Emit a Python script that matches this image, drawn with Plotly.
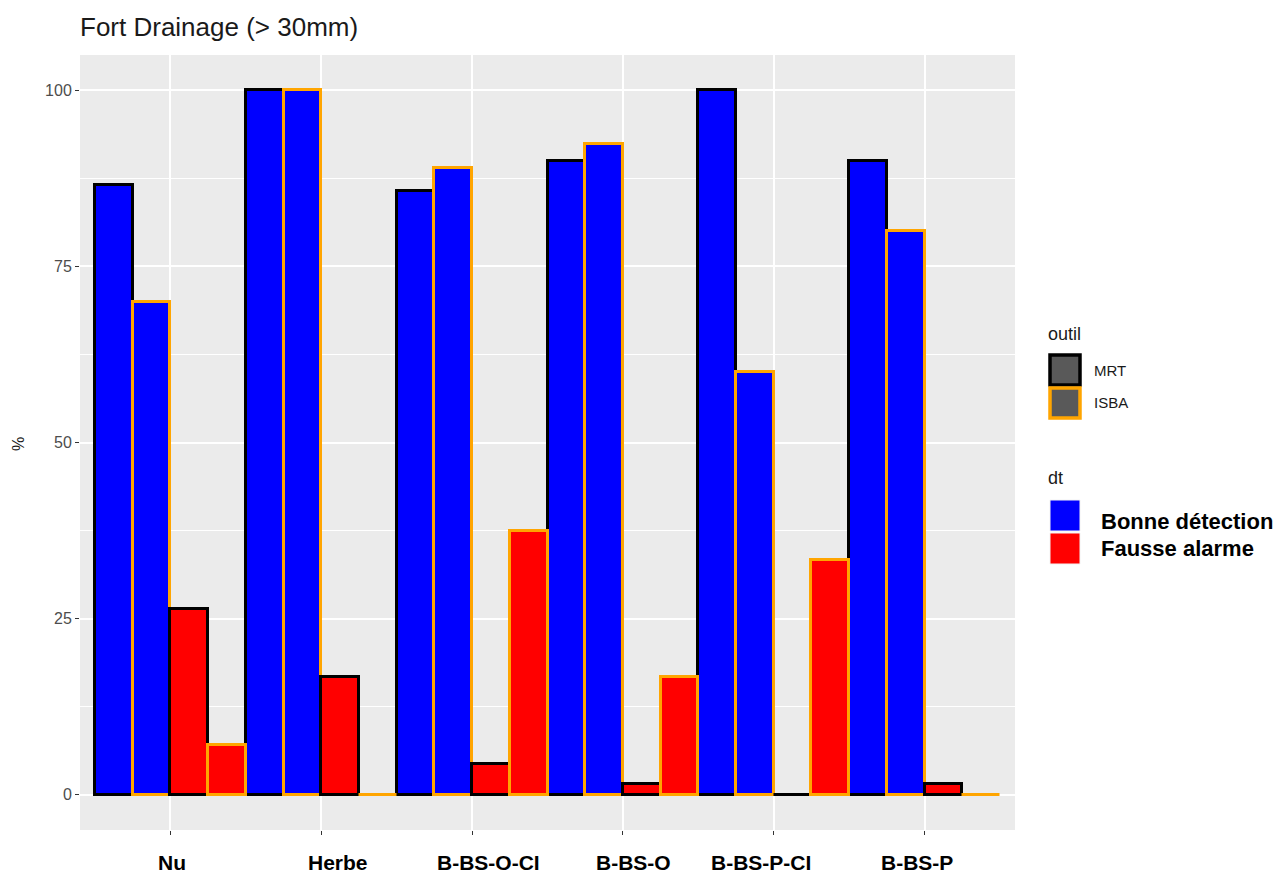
import plotly.graph_objects as go

# ---------------- data ----------------
categories = ["Nu", "Herbe", "B-BS-O-CI", "B-BS-O", "B-BS-P-CI", "B-BS-P"]
mrt_bonne = [86.5, 100, 85.7, 90, 100, 90]
isba_bonne = [70, 100, 88.9, 92.3, 60, 80]
mrt_fausse = [26.3, 16.7, 4.3, 1.6, 0, 1.6]
isba_fausse = [7.1, 0, 37.5, 16.7, 33.3, 0]
y_ticks = [0, 25, 50, 75, 100]

outil_labels = ["MRT", "ISBA"]
dt_labels = ["Bonne détection", "Fausse alarme"]

# ---------------- style ----------------
BLUE, RED = "#0000FF", "#FF0000"
BLACK, ORANGE = "#000000", "#FFA500"
FONT = "Liberation Sans, Arial, sans-serif"
OFF = 8  # default page body margin
SW, SH = 1282, 876           # screen size
W, H = SW - OFF, SH - OFF     # figure size
PL, PR, PT, PB = 80, 1015, 55, 830   # plot area in screen pixels


def px(x):
    return (x - PL) / (PR - PL)


def py(y):
    return (PB - y) / (PB - PT)


series = [
    (mrt_bonne, BLUE, BLACK, "MRT", "Bonne détection"),
    (isba_bonne, BLUE, ORANGE, "ISBA", "Bonne détection"),
    (mrt_fausse, RED, BLACK, "MRT", "Fausse alarme"),
    (isba_fausse, RED, ORANGE, "ISBA", "Fausse alarme"),
]

fig = go.Figure()
for i, (vals, fill, edge, outil, dt) in enumerate(series):
    fig.add_trace(go.Bar(
        x=categories, y=vals, offsetgroup=str(i),
        marker=dict(color=fill, line=dict(color=edge, width=3)),
        name=f"{outil} - {dt}", showlegend=False,
    ))

# x tick labels as annotations (offsets as in reference)
label_shift = [2, 17, 16, 11, -13, -8]
annotations = []
for cat, sh in zip(categories, label_shift):
    annotations.append(dict(
        x=cat, xref="x", y=0, yref="paper", yanchor="top", yshift=-19,
        xshift=sh, text=f"<b>{cat}</b>", showarrow=False,
        font=dict(family=FONT, size=21, color="#000000")))

# y axis title
annotations.append(dict(x=px(18), y=py(444), xref="paper", yref="paper",
                        xanchor="center", yanchor="middle", text="%", textangle=-90,
                        showarrow=False,
                        font=dict(family=FONT, size=16, color="#1A1A1A")))

# legend (manual)
shapes = []
legend_title_font = dict(family=FONT, size=18, color="#1A1A1A")
annotations.append(dict(x=px(1046), y=py(334), xref="paper", yref="paper",
                        xanchor="left", yanchor="middle", text="outil",
                        showarrow=False, font=legend_title_font))
annotations.append(dict(x=px(1046), y=py(478), xref="paper", yref="paper",
                        xanchor="left", yanchor="middle", text="dt",
                        showarrow=False, font=legend_title_font))
for k, (lab, edge) in enumerate(zip(outil_labels, [BLACK, ORANGE])):
    y0 = 355 + 33 * k
    shapes.append(dict(type="rect", xref="paper", yref="paper",
                       x0=px(1050), x1=px(1080), y0=py(y0 + 30), y1=py(y0),
                       fillcolor="#595959", line=dict(color=edge, width=3.5)))
    annotations.append(dict(x=px(1092), y=py(y0 + 15), xref="paper", yref="paper",
                            xanchor="left", yanchor="middle", text=lab,
                            showarrow=False,
                            font=dict(family=FONT, size=15, color="#1A1A1A")))
for k, (lab, col) in enumerate(zip(dt_labels, [BLUE, RED])):
    y0 = 500 + 33 * k
    shapes.append(dict(type="rect", xref="paper", yref="paper",
                       x0=px(1050), x1=px(1080), y0=py(y0 + 31), y1=py(y0),
                       fillcolor=col, line=dict(color="#F2F2F2", width=1)))
    annotations.append(dict(x=px(1099), y=py(521 + 27 * k), xref="paper", yref="paper",
                            xanchor="left", yanchor="middle", text=f"<b>{lab}</b>",
                            showarrow=False,
                            font=dict(family=FONT, size=22, color="#000000")))

fig.update_layout(
    width=W, height=H,
    margin=dict(l=PL - OFF, r=W - (PR - OFF), t=PT - OFF, b=H - (PB - OFF),
                autoexpand=False),
    paper_bgcolor="white", plot_bgcolor="#EBEBEB",
    barmode="group", bargap=0, bargroupgap=0,
    font=dict(family=FONT),
    title=dict(text="Fort Drainage (> 30mm)", xref="container", yref="container",
               x=(80 - OFF) / W, xanchor="left", y=1 - (27 - OFF) / H, yanchor="middle",
               font=dict(family=FONT, size=26, color="#1A1A1A")),
    showlegend=False,
    shapes=shapes, annotations=annotations,
)
fig.update_xaxes(
    range=[-0.6, 5.6], showgrid=True, gridcolor="white", gridwidth=1.5,
    showticklabels=False, ticks="outside", ticklen=4, tickcolor="#333333",
    tickwidth=1, zeroline=False, showline=False, automargin=False,
)
fig.update_yaxes(
    range=[-5, 105], tickvals=y_ticks, showgrid=True, gridcolor="white",
    gridwidth=1.5, zeroline=False, showline=False, automargin=False,
    ticks="outside", ticklen=4, tickcolor="#333333", tickwidth=1,
    tickfont=dict(family=FONT, size=16, color="#4D4D4D"),
    minor=dict(dtick=12.5, tick0=0, showgrid=True, gridcolor="white", gridwidth=0.7),
)

fig.write_html("out.html")
